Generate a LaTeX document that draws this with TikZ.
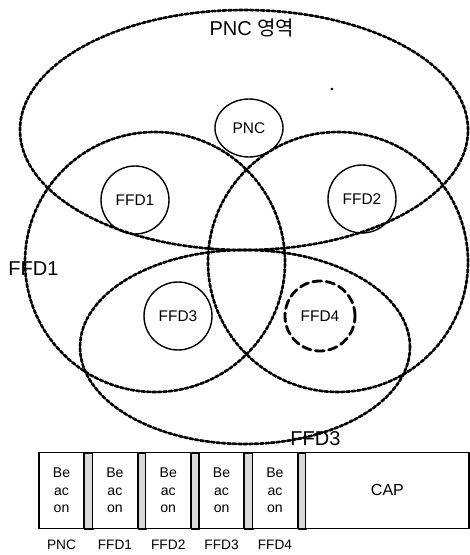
\documentclass[tikz,border=0pt]{standalone}
\usepackage{fontspec}
\setmainfont{Liberation Sans}
\newfontfamily\kofont{Noto Sans CJK KR}
\usetikzlibrary{calc,shapes.geometric}

\begin{document}
\begin{tikzpicture}[line cap=round,line join=round,
  area/.style={line width=1.5pt,dash pattern=on 2pt off 1.1pt},
  dev/.style={circle,draw,line width=.8pt,minimum size=1.36cm,inner sep=0pt,font=\fontsize{8.8}{10}\selectfont},
  newdev/.style={dev,line width=1.6pt,dash pattern=on 5pt off 2.6pt,minimum size=1.4cm},
  slot/.style={draw,line width=.85pt,fill=white,anchor=south west,inner sep=0pt,align=center,
    minimum height=1.52cm,font=\fontsize{8}{9.7}\selectfont},
  guard/.style={draw,line width=.7pt,fill=black!15},
  big/.style={font=\fontsize{11.4}{13}\selectfont,inner sep=0pt},
  tag/.style={font=\fontsize{7.8}{9}\selectfont,inner sep=0pt,anchor=base}]
\path[use as bounding box] (0,0) rectangle (9.4,11.1);
\fill[white] (0,0) rectangle (9.4,11.1);

% 영역: PNC, FFD1, FFD2, FFD3
\draw[area] (4.88,8.50) ellipse[x radius=4.48,y radius=2.40];
\draw[area] (3.10,5.86) circle[radius=2.60];
\draw[area] (6.76,5.86) circle[radius=2.60];
\draw[area] (4.90,4.16) ellipse[x radius=3.30,y radius=1.94];
\fill (6.64,9.32) circle[radius=.03];

% 장치
\node[dev,ellipse,minimum width=1.36cm,minimum height=1.16cm] (pnc) at (4.98,8.54) {PNC};
\node[dev] (ffd1) at (2.70,7.10) {FFD1};
\node[dev] (ffd2) at (7.24,7.12) {FFD2};
\node[dev] (ffd3) at (3.56,4.78) {FFD3};
\node[newdev] (ffd4) at (6.40,4.78) {FFD4};

\node[big,anchor=base] (pncarea) at (5.04,10.40) {PNC {\kofont 영역}};
\node[big,anchor=base west] (ffd1area) at (0.16,5.60) {FFD1};
\node[big,anchor=base west] (ffd3area) at (5.80,2.20) {FFD3};

% 비콘 슬롯과 CAP
\foreach \i/\who in {0/PNC,1/FFD1,2/FFD2,3/FFD3,4/FFD4} {
  \pgfmathsetmacro\xl{0.766+1.067*\i}
  \node[slot,minimum width=.9cm] (beacon\i) at (\xl,0.52) {Be\\ac\\on};
  \draw[guard] (beacon\i.south east) rectangle ++(0.167,1.52);
  \node[tag] (owner\i) at ($(beacon\i.south)+(0,-0.42)$) {\who};
}
\node[slot,minimum width=3.266cm,font=\fontsize{9.1}{10}\selectfont] (cap) at (6.10,0.52) {CAP};
\end{tikzpicture}
\end{document}
